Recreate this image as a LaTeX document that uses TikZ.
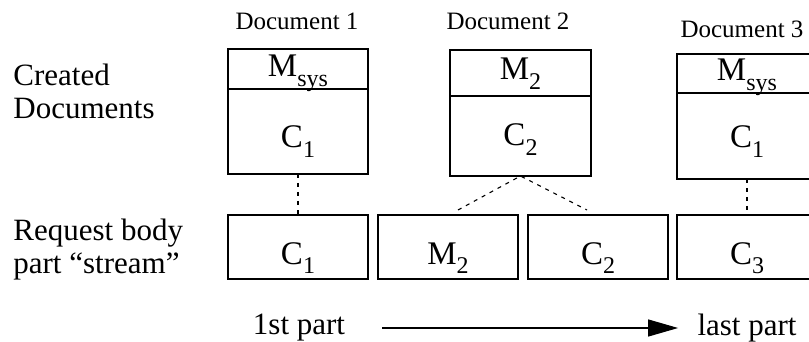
\documentclass[tikz,border=0pt]{standalone}
\usepackage{fontspec}
\setmainfont{Liberation Serif}
\usepackage{tikz}
\usetikzlibrary{positioning, calc, arrows.meta}
\newcommand{\lowidx}[1]{\raisebox{-0.3em}{\fontsize{12}{12}\selectfont #1}}

\begin{document}
\begin{tikzpicture}[x=0.5pt, y=-0.5pt,
	part/.style={draw, line width=0.65pt, minimum width=70pt, inner sep=0pt, outer sep=0pt, text depth=0pt, text height=16pt, font=\fontsize{16.5}{18}\selectfont},
	doclabel/.style={font=\fontsize{12.5}{15}\selectfont, inner sep=0pt},
	rowlabel/.style={font=\fontsize{15.5}{16.5}\selectfont, align=left, anchor=west, inner sep=0pt},
	endlabel/.style={font=\fontsize{15.5}{18}\selectfont, inner sep=0pt},
	link/.style={line width=0.55pt, dash pattern=on 2pt off 2.5pt}]
		\useasboundingbox (0,0) rectangle (809,342);
		
		\node[rowlabel] (created) at (13,91) {Created\\Documents};
		\node[rowlabel] (request) at (13,250) {Request body\\part “stream”};
		
		\node[doclabel] (doc1) at (297,21) {Document 1};
		\node[part, minimum height=20pt, text height=8pt] (h1) at (298,69) {M\lowidx{sys}};
		\node[part, minimum height=42.5pt, text height=16pt, below=0pt of h1] (b1) {C\lowidx{1}};
		
		\node[doclabel] (doc2) at (508,21) {Document 2};
		\node[part, minimum width=70.5pt, minimum height=23pt, text height=7pt] (h2) at (520.5,73) {M\lowidx{2}};
		\node[part, minimum width=70.5pt, minimum height=40pt, text height=10pt, below=0pt of h2] (b2) {C\lowidx{2}};
		
		\node[doclabel] (doc3) at (742,29) {Document 3};
		\node[part, minimum height=19.5pt, text height=7.5pt] (h3) at (747,73.5) {M\lowidx{sys}};
		\node[part, minimum height=43pt, text height=12pt, below=0pt of h3] (b3) {C\lowidx{1}};
		
		\node[part, minimum height=32pt, text height=17pt] (s1) at (298,247) {C\lowidx{1}};
		\node[part, minimum height=32pt, text height=17pt] (s2) at (448,247) {M\lowidx{2}};
		\node[part, minimum height=32pt, text height=17pt] (s3) at (598,247) {C\lowidx{2}};
		\node[part, minimum height=32pt, text height=17pt] (s4) at (747,247) {C\lowidx{3}};
		
		\coordinate (m2top) at (458,210);
		\coordinate (c2top) at (587,210);
		\draw[link] (b1.south) -- (s1.north);
		\draw[link] (m2top) -- (b2.south) -- (c2top);
		\draw[link] (b3.south) -- (s4.north);
		
		\node[endlabel] (first) at (299,328) {1st part};
		\node[endlabel] (last) at (747,328) {last part};
		\draw[line width=0.6pt, -{Triangle[length=15pt, width=8.5pt]}, shorten <=18.5pt, shorten >=9.5pt] (first) -- (last);
\end{tikzpicture}
\end{document}
